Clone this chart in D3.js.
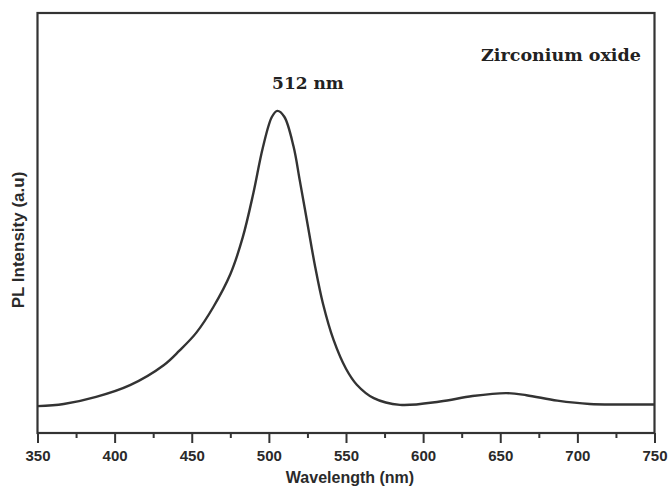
<!DOCTYPE html>
<html>
<head>
<meta charset="utf-8">
<script src="https://cdn.jsdelivr.net/npm/d3@7"></script>
<style>
  body { margin: 0; background: #fff; }
  svg { display: block; }
</style>
</head>
<body>
<svg id="chart"></svg>
<script>
// PL spectrum (wavelength in nm, intensity in a.u.)
const wavelength = [350, 367, 388, 410, 432, 442, 453, 464, 475, 483, 490, 496, 502, 505.5, 510, 516, 520, 525, 530, 535, 542, 550, 557, 568, 585, 611, 632, 654, 667, 687, 708, 730, 750];
const intensity  = [6.4, 6.9, 8.6, 11.4, 16.2, 19.6, 23.9, 30.0, 37.8, 46.5, 57.2, 67.8, 75.3, 76.7, 75.3, 68.2, 60.2, 49.9, 39.6, 30.9, 22.1, 15.3, 11.5, 8.3, 6.7, 7.5, 8.8, 9.5, 9.0, 7.7, 6.9, 6.8, 6.8];
const xTicks = [350, 400, 450, 500, 550, 600, 650, 700, 750];
const xMinorTicks = [375, 425, 475, 525, 575, 625, 675, 725];
const peakLabel = "512 nm";
const sampleLabel = "Zirconium oxide";

const W = 671, H = 486;
const margin = {left: 37.5, right: 16.5, top: 13, bottom: 53};

const svg = d3.select('#chart').attr('width', W).attr('height', H);

const x = d3.scaleLinear().domain([350, 750]).range([margin.left, W - margin.right]);
const y = d3.scaleLinear().domain([0, 100]).range([H - margin.bottom, margin.top]);

const ink = '#333';
const data = wavelength.map((w, i) => ({w, v: intensity[i]}));

// frame
svg.append('rect')
  .attr('x', x(350)).attr('y', y(100))
  .attr('width', x(750) - x(350)).attr('height', y(0) - y(100))
  .attr('fill', 'none').attr('stroke', ink).attr('stroke-width', 2.2);

// bottom axis: major + minor ticks pointing down
const xAxis = svg.append('g')
  .attr('transform', `translate(0,${y(0)})`)
  .call(d3.axisBottom(x).tickValues(xTicks).tickSize(10).tickPadding(7).tickFormat(d3.format('d')));
xAxis.select('.domain').remove();
xAxis.selectAll('.tick line').attr('stroke', ink).attr('stroke-width', 2);
xAxis.selectAll('.tick text')
  .attr('fill', '#2a2a2a')
  .attr('font-family', 'Liberation Sans, Arial, sans-serif')
  .attr('font-weight', 'bold')
  .attr('font-size', 15);

const xMinor = svg.append('g')
  .attr('transform', `translate(0,${y(0)})`)
  .call(d3.axisBottom(x).tickValues(xMinorTicks).tickSize(5).tickFormat(''));
xMinor.select('.domain').remove();
xMinor.selectAll('.tick line').attr('stroke', ink).attr('stroke-width', 2);

// axis titles
svg.append('text')
  .attr('x', (x(350) + x(750)) / 2 + 4).attr('y', 483)
  .attr('text-anchor', 'middle')
  .attr('font-family', 'Liberation Sans, Arial, sans-serif')
  .attr('font-weight', 'bold').attr('font-size', 16)
  .attr('fill', '#2a2a2a')
  .text('Wavelength (nm)');

svg.append('text')
  .attr('transform', `translate(24,${240}) rotate(-90)`)
  .attr('text-anchor', 'middle')
  .attr('font-family', 'Liberation Sans, Arial, sans-serif')
  .attr('font-weight', 'bold').attr('font-size', 17)
  .attr('fill', '#2a2a2a')
  .text('PL Intensity (a.u)');

// spectrum
const line = d3.line()
  .x(d => x(d.w))
  .y(d => y(d.v))
  .curve(d3.curveCatmullRom.alpha(0.5));

svg.append('path')
  .datum(data)
  .attr('d', line)
  .attr('fill', 'none')
  .attr('stroke', ink)
  .attr('stroke-width', 2.4);

// annotations
svg.append('text')
  .attr('x', 308).attr('y', 89)
  .attr('text-anchor', 'middle')
  .attr('font-family', 'DejaVu Serif, serif')
  .attr('font-weight', 'bold').attr('font-size', 17)
  .attr('fill', '#222')
  .text(peakLabel);

svg.append('text')
  .attr('x', 561).attr('y', 61)
  .attr('text-anchor', 'middle')
  .attr('font-family', 'DejaVu Serif, serif')
  .attr('font-weight', 'bold').attr('font-size', 17.5)
  .attr('fill', '#222')
  .text(sampleLabel);
</script>
</body>
</html>
